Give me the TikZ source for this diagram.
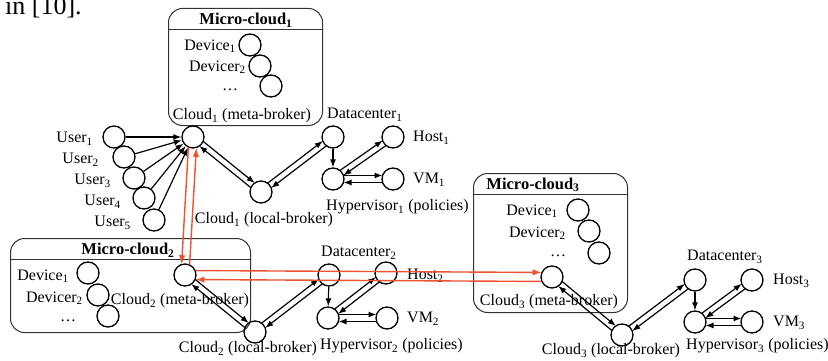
\documentclass[tikz,border=0pt]{standalone}
\usepackage{fontspec}
\setmainfont{Liberation Serif}
\usetikzlibrary{arrows.meta,calc}
\definecolor{redarr}{RGB}{238,82,48}
\tikzset{
  nd/.style={circle,draw,line width=1.3pt,minimum size=22pt,inner sep=0pt},
  lbl/.style={inner sep=0pt,font=\fontsize{16}{19}\selectfont},
  ttl/.style={inner sep=0pt,font=\fontsize{16.5}{19}\selectfont\bfseries},
  mc/.style={draw=black!80,line width=1pt,rounded corners=14pt,inner sep=0pt,anchor=north west},
  hdr/.style={draw=black!80,line width=1pt},
  arr/.style={-{Latex[length=8pt,width=6pt]},line width=1.2pt},
  darr/.style={arr,shorten >=10.5pt,shorten <=10.5pt},
  rarr/.style={-{Latex[length=9pt,width=6.5pt]},line width=1.4pt,draw=redarr,shorten >=10.5pt,shorten <=10.5pt},
}
% style, a, b, offset, angle, negated angle
\newcommand\dblar[6]{%
  \draw[#1] ($(#2)!#4!#5:(#3)$) -- ($(#3)!#4!#6:(#2)$);
  \draw[#1] ($(#3)!#4!#5:(#2)$) -- ($(#2)!#4!#6:(#3)$);
}
\begin{document}
\begin{tikzpicture}[x=1pt,y=-1pt]
\useasboundingbox (0,0) rectangle (828,361);

\node[anchor=base west,inner sep=0pt,font=\fontsize{26}{30}\selectfont] (cap) at (5,15) {in [10].};

% ---------- Micro-cloud 1 ----------
\node[mc,minimum width=154pt,minimum height=117pt] (mc1) at (168,8) {};
\draw[hdr] (mc1.west |- 0,30) -- (mc1.east |- 0,30);
\node[ttl] (t1) at (246,20) {Micro-cloud\textsubscript{1}};
\node[nd] (d11) at (250,45) {};
\node[nd] (d12) at (260,66) {};
\node[nd] (d13) at (271,86) {};
\node[lbl,anchor=east] (ld11) at (236,46) {Device\textsubscript{1}};
\node[lbl,anchor=east] (ld12) at (246,67) {Devicer\textsubscript{2}};
\node[lbl] (ld13) at (230,90) {…};
\node[lbl] (lm1) at (242,116) {Cloud\textsubscript{1} (meta-broker)};

\node[nd] (m1) at (193,137) {};
\node[nd] (u1) at (114,137) {};
\node[nd] (u2) at (124,157) {};
\node[nd] (u3) at (134,178) {};
\node[nd] (u4) at (144,198) {};
\node[nd] (u5) at (154,220) {};
\node[lbl,anchor=east] (lu1) at (93,139) {User\textsubscript{1}};
\node[lbl,anchor=east] (lu2) at (99,160) {User\textsubscript{2}};
\node[lbl,anchor=east] (lu3) at (111,181) {User\textsubscript{3}};
\node[lbl,anchor=east] (lu4) at (121,202) {User\textsubscript{4}};
\node[lbl,anchor=east] (lu5) at (131,223) {User\textsubscript{5}};
\foreach \u in {u1,u2,u3,u4,u5} \draw[arr] (\u) -- (m1);

\node[nd] (l1) at (261,192) {};
\node[lbl] (ll1) at (264,220) {Cloud\textsubscript{1} (local-broker)};
\node[nd] (dc1) at (333,137) {};
\node[nd] (hy1) at (333,179) {};
\node[nd] (ho1) at (393,137) {};
\node[nd] (vm1) at (393,179) {};
\node[lbl,anchor=west] (ldc1) at (327,115) {Datacenter\textsubscript{1}};
\node[lbl,anchor=west] (lhy1) at (326,207) {Hypervisor\textsubscript{1} (policies)};
\node[lbl,anchor=west] (lho1) at (413,138) {Host\textsubscript{1}};
\node[lbl,anchor=west] (lvm1) at (413,180) {VM\textsubscript{1}};
\dblar{darr}{m1}{l1}{3pt}{90}{-90}
\dblar{darr}{l1}{dc1}{3pt}{90}{-90}
\draw[arr] (dc1) -- (hy1);
\dblar{darr}{hy1}{ho1}{3pt}{90}{-90}
\dblar{darr}{hy1}{vm1}{3.5pt}{90}{-90}

% ---------- Micro-cloud 2 ----------
\node[mc,minimum width=240pt,minimum height=94pt] (mc2) at (10,238) {};
\draw[hdr] (mc2.west |- 0,259) -- (mc2.east |- 0,259);
\node[ttl] (t2) at (128,250) {Micro-cloud\textsubscript{2}};
\node[nd] (d21) at (88,273) {};
\node[nd] (d22) at (98,295) {};
\node[nd] (d23) at (108,316) {};
\node[lbl,anchor=east] (ld21) at (69,276) {Device\textsubscript{1}};
\node[lbl,anchor=east] (ld22) at (83,298) {Devicer\textsubscript{2}};
\node[lbl] (ld23) at (68,321) {…};
\node[nd] (m2) at (185,275) {};
\node[lbl] (lm2) at (180,301) {Cloud\textsubscript{2} (meta-broker)};

\node[nd] (l2) at (255,332) {};
\node[lbl] (ll2) at (248,349) {Cloud\textsubscript{2} (local-broker)};
\node[nd] (dc2) at (329,275) {};
\node[nd] (hy2) at (328,318) {};
\node[nd] (ho2) at (386,273) {};
\node[nd] (vm2) at (387,318) {};
\node[lbl,anchor=west] (ldc2) at (321,253) {Datacenter\textsubscript{2}};
\node[lbl,anchor=west] (lhy2) at (320,346) {Hypervisor\textsubscript{2} (policies)};
\node[lbl,anchor=west] (lho2) at (407,276) {Host\textsubscript{2}};
\node[lbl,anchor=west] (lvm2) at (407,319) {VM\textsubscript{2}};
\dblar{darr}{m2}{l2}{3pt}{90}{-90}
\dblar{darr}{l2}{dc2}{3pt}{90}{-90}
\draw[arr] (dc2) -- (hy2);
\dblar{darr}{hy2}{ho2}{3pt}{90}{-90}
\dblar{darr}{hy2}{vm2}{3.5pt}{90}{-90}

% ---------- Micro-cloud 3 ----------
\node[mc,minimum width=154pt,minimum height=139pt] (mc3) at (473,173) {};
\draw[hdr] (mc3.west |- 0,194) -- (mc3.east |- 0,194);
\node[ttl] (t3) at (533,185) {Micro-cloud\textsubscript{3}};
\node[nd] (d31) at (578,210) {};
\node[nd] (d32) at (589,231) {};
\node[nd] (d33) at (599,253) {};
\node[lbl,anchor=east] (ld31) at (558,211) {Device\textsubscript{1}};
\node[lbl,anchor=east] (ld32) at (566,233) {Devicer\textsubscript{2}};
\node[lbl] (ld33) at (558,256) {…};
\node[nd] (m3) at (552,277) {};
\node[lbl] (lm3) at (549,302) {Cloud\textsubscript{3} (meta-broker)};

\node[nd] (l3) at (622,335) {};
\node[lbl] (ll3) at (611,351) {Cloud\textsubscript{3} (local-broker)};
\node[nd] (dc3) at (695,280) {};
\node[nd] (hy3) at (695,322) {};
\node[nd] (ho3) at (752,280) {};
\node[nd] (vm3) at (752,322) {};
\node[lbl,anchor=west] (ldc3) at (687,257) {Datacenter\textsubscript{3}};
\node[lbl,anchor=west] (lhy3) at (686,346) {Hypervisor\textsubscript{3} (policies)};
\node[lbl,anchor=west] (lho3) at (773,281) {Host\textsubscript{3}};
\node[lbl,anchor=west] (lvm3) at (773,323) {VM\textsubscript{3}};
\dblar{darr}{m3}{l3}{3pt}{90}{-90}
\dblar{darr}{l3}{dc3}{3pt}{90}{-90}
\draw[arr] (dc3) -- (hy3);
\dblar{darr}{hy3}{ho3}{3pt}{90}{-90}
\dblar{darr}{hy3}{vm3}{3.5pt}{90}{-90}

% ---------- red inter-cloud links ----------
\dblar{rarr}{m1}{m2}{4pt}{-90}{90}
\dblar{rarr}{m2}{m3}{4.5pt}{90}{-90}
\end{tikzpicture}
\end{document}
